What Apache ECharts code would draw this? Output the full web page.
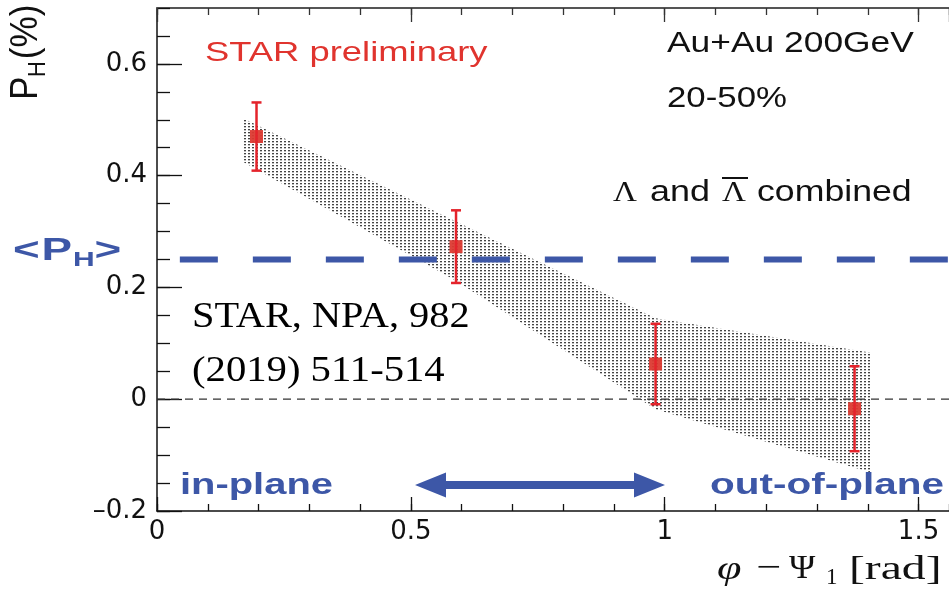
<!DOCTYPE html>
<html>
<head>
<meta charset="utf-8">
<script src="https://cdn.jsdelivr.net/npm/echarts@6/dist/echarts.min.js"></script>
<style>
  html, body { margin: 0; padding: 0; background: #fff; }
  #chart { width: 949px; height: 589px; }
</style>
</head>
<body>
<div id="chart"></div>
<script>
// Azimuthal dependence of the global Lambda polarization, Au+Au 200 GeV, 20-50%
const phi = [0.196, 0.589, 0.982, 1.374];            // phi - Psi_1 [rad]
const polarization = [0.470, 0.273, 0.063, -0.017];  // P_H (%)
const statErr = [0.061, 0.065, 0.072, 0.076];

// systematic band (upper / lower edges)
const bandX = [0.171, 0.589, 0.982, 1.407];
const bandHigh = [0.502, 0.318, 0.145, 0.083];
const bandLow = [0.424, 0.212, -0.018, -0.131];

// average polarization <P_H>
const meanPH = 0.25;
const meanLineX = [0.045, 1.56];

// y = 0 reference
const zeroLineX = [0, 1.56];

const xTickValues = [0, 0.5, 1, 1.5];
const yTickValues = [-0.2, 0, 0.2, 0.4, 0.6];

const X_MIN = 0, X_MAX = 1.56, Y_MIN = -0.2, Y_MAX = 0.7;

const SANS = '"Liberation Sans", Arial, Helvetica, sans-serif';
const SERIF = '"Liberation Serif", "Times New Roman", serif';
const TICK_FONT = '"DejaVu Sans", sans-serif';
const BLUE = '#3d57a7';
const RED = '#e0342e';

// dotted hatch used for the systematic band
function makeHatch() {
  const c = document.createElement('canvas');
  c.width = 4; c.height = 3;
  const g = c.getContext('2d');
  g.fillStyle = '#444';
  g.fillRect(0, 0, 2, 1);
  g.fillStyle = 'rgba(68,68,68,0.35)';
  g.fillRect(0, 1, 2, 1);
  return c;
}
const hatch = makeHatch();

function isTick(v, list) {
  return list.some(t => Math.abs(t - v) < 1e-6);
}

function txt(x, y, text, font, fill, extra) {
  return Object.assign({
    type: 'text', x: x, y: y, z: 50,
    style: {
      text: text, font: font, fill: fill,
      align: 'left', textAlign: 'left',
      verticalAlign: 'middle', textVerticalAlign: 'middle'
    }
  }, extra || {});
}

const chart = echarts.init(document.getElementById('chart'), null, { renderer: 'canvas' });

const axisCommon = {
  type: 'value', min: X_MIN, max: X_MAX,
  splitLine: { show: false }
};

const option = {
  animation: false,
  backgroundColor: '#fff',
  grid: { left: 157, top: 8, width: 792, height: 503, containLabel: false },
  xAxis: [
    Object.assign({}, axisCommon, {
      position: 'bottom', interval: 0.5,
      axisLine: { show: true, onZero: false, lineStyle: { color: '#111', width: 1.5 } },
      axisTick: { show: true, inside: true, length: 14, lineStyle: { color: '#111', width: 1.3 } },
      axisLabel: {
        show: true, margin: 8, showMaxLabel: false,
        fontFamily: TICK_FONT, fontSize: 26, color: '#111',
        formatter: v => isTick(v, xTickValues) ? String(v) : ''
      }
    }),
    Object.assign({}, axisCommon, {
      position: 'bottom', interval: 0.1,
      axisLine: { show: false, onZero: false },
      axisTick: { show: true, inside: true, length: 7, lineStyle: { color: '#111', width: 1.3 } },
      axisLabel: { show: false }
    }),
    Object.assign({}, axisCommon, {
      position: 'top', interval: 0.5,
      axisLine: { show: true, onZero: false, lineStyle: { color: '#555', width: 2 } },
      axisTick: { show: true, inside: true, length: 14, lineStyle: { color: '#333', width: 1.3 } },
      axisLabel: { show: false }
    }),
    Object.assign({}, axisCommon, {
      position: 'top', interval: 0.1,
      axisLine: { show: false, onZero: false },
      axisTick: { show: true, inside: true, length: 7, lineStyle: { color: '#333', width: 1.3 } },
      axisLabel: { show: false }
    })
  ],
  yAxis: [
    {
      type: 'value', position: 'left', min: Y_MIN, max: Y_MAX, interval: 0.2,
      splitLine: { show: false },
      axisLine: { show: true, onZero: false, lineStyle: { color: '#111', width: 1.5 } },
      axisTick: { show: true, inside: true, length: 25, lineStyle: { color: '#111', width: 1.3 } },
      axisLabel: {
        show: true, margin: 10, showMaxLabel: false,
        fontFamily: TICK_FONT, fontSize: 26, color: '#111',
        formatter: v => {
          if (!isTick(v, yTickValues)) return '';
          const r = Math.round(v * 10) / 10;
          return r < 0 ? '\u2013' + String(-r) : String(r);
        }
      }
    },
    {
      type: 'value', position: 'left', min: Y_MIN, max: Y_MAX, interval: 0.05,
      splitLine: { show: false },
      axisLine: { show: false, onZero: false },
      axisTick: { show: true, inside: true, length: 13, lineStyle: { color: '#111', width: 1.3 } },
      axisLabel: { show: false }
    }
  ],
  series: [
    {
      name: 'systematic',
      type: 'custom',
      xAxisIndex: 0, yAxisIndex: 0,
      z: 1,
      silent: true,
      data: [[bandX[0], bandHigh[0]]],
      renderItem: function (params, api) {
        const pts = [];
        for (let i = 0; i < bandX.length; i++) pts.push(api.coord([bandX[i], bandHigh[i]]));
        for (let i = bandX.length - 1; i >= 0; i--) pts.push(api.coord([bandX[i], bandLow[i]]));
        return {
          type: 'polygon',
          shape: { points: pts },
          style: { fill: { image: hatch, repeat: 'repeat' }, stroke: null }
        };
      }
    },
    {
      name: 'zero',
      type: 'line',
      xAxisIndex: 0, yAxisIndex: 0,
      z: 2,
      symbol: 'none',
      silent: true,
      data: zeroLineX.map(x => [x, 0]),
      lineStyle: { color: '#333', width: 1.2, type: [8, 6] }
    },
    {
      name: 'mean',
      type: 'line',
      xAxisIndex: 0, yAxisIndex: 0,
      z: 3,
      symbol: 'none',
      silent: true,
      data: meanLineX.map(x => [x, meanPH]),
      lineStyle: { color: BLUE, width: 6, type: [38, 35] }
    },
    {
      name: 'P_H',
      type: 'scatter',
      xAxisIndex: 0, yAxisIndex: 0,
      z: 4,
      symbol: 'rect',
      symbolSize: 13,
      itemStyle: { color: '#dc3a32', opacity: 0.95 },
      data: phi.map((x, i) => [x, polarization[i]])
    },
    {
      name: 'stat',
      type: 'custom',
      xAxisIndex: 0, yAxisIndex: 0,
      z: 5,
      data: phi.map((x, i) => [x, polarization[i], statErr[i]]),
      encode: { x: 0, y: 1 },
      renderItem: function (params, api) {
        const x = api.value(0), y = api.value(1), e = api.value(2);
        const top = api.coord([x, y + e]);
        const bot = api.coord([x, y - e]);
        const hw = 5;
        const st = { stroke: '#e4232b', lineWidth: 2.5 };
        return {
          type: 'group',
          children: [
            { type: 'line', shape: { x1: top[0], y1: top[1], x2: bot[0], y2: bot[1] }, style: st },
            { type: 'line', shape: { x1: top[0] - hw, y1: top[1], x2: top[0] + hw, y2: top[1] }, style: st },
            { type: 'line', shape: { x1: bot[0] - hw, y1: bot[1], x2: bot[0] + hw, y2: bot[1] }, style: st }
          ]
        };
      }
    }
  ],
  graphic: [
    // y-axis title P_H(%)
    {
      type: 'group', x: 26, y: 100, rotation: Math.PI / 2, scaleX: 1.1, scaleY: 1.2,
      children: [
        txt(0, 0, 'P', '32px ' + SANS, '#111'),
        txt(21, 10, 'H', '20px ' + SANS, '#111'),
        txt(37, 0, '(%)', '32px ' + SANS, '#111')
      ]
    },
    // x-axis title
    txt(717, 570, '\u03c6', 'italic 34px ' + SERIF, '#111', { scaleX: 1.3 }),
    txt(756, 569, '\u2212', '34px ' + SERIF, '#111', { scaleX: 1.3 }),
    txt(789, 569, '\u03a8', '34px ' + SERIF, '#111', { scaleX: 1.05 }),
    txt(826, 578, '1', '23px ' + SERIF, '#111'),
    txt(849, 570, '[rad]', '34px ' + SERIF, '#111', { scaleX: 1.4 }),

    txt(205, 53, 'STAR preliminary', '28px ' + SANS, RED, { scaleX: 1.3 }),
    txt(667, 44, 'Au+Au 200GeV', '29px ' + SANS, '#111', { scaleX: 1.22 }),
    txt(667, 99, '20-50%', '29px ' + SANS, '#111', { scaleX: 1.2 }),

    // Lambda and anti-Lambda combined
    txt(613, 193, '\u039b', '30px ' + SERIF, '#111', { scaleX: 1.1 }),
    txt(650, 193, 'and', '29px ' + SANS, '#111', { scaleX: 1.24 }),
    txt(722, 193, '\u039b', '30px ' + SERIF, '#111', { scaleX: 1.1 }),
    { type: 'line', z: 50, shape: { x1: 722, y1: 178, x2: 748, y2: 178 }, style: { stroke: '#111', lineWidth: 2 } },
    txt(757, 193, 'combined', '29px ' + SANS, '#111', { scaleX: 1.23 }),

    // reference
    txt(192, 318, 'STAR, NPA, 982', '36px ' + SERIF, '#000', { scaleX: 1.12 }),
    txt(192, 372, '(2019) 511-514', '36px ' + SERIF, '#000', { scaleX: 1.13 }),

    // <P_H>
    {
      type: 'group', x: 13, y: 251, scaleX: 1.43,
      children: [
        txt(0, 0, '<', 'bold 32px ' + SANS, BLUE),
        txt(20, 0, 'P', 'bold 32px ' + SANS, BLUE),
        txt(42, 9, 'H', 'bold 21px ' + SANS, BLUE),
        txt(57, 0, '>', 'bold 32px ' + SANS, BLUE)
      ]
    },

    txt(180, 486, 'in-plane', 'bold 30px ' + SANS, BLUE, { scaleX: 1.33 }),
    txt(710, 486, 'out-of-plane', 'bold 30px ' + SANS, BLUE, { scaleX: 1.35 }),

    // double arrow between in-plane and out-of-plane
    {
      type: 'polygon', z: 50,
      shape: {
        points: [[415, 485], [446, 472.5], [446, 481], [634, 481], [634, 472.5],
                 [665, 485], [634, 497.5], [634, 489], [446, 489], [446, 497.5]]
      },
      style: { fill: BLUE }
    }
  ]
};

chart.setOption(option);
</script>
</body>
</html>
